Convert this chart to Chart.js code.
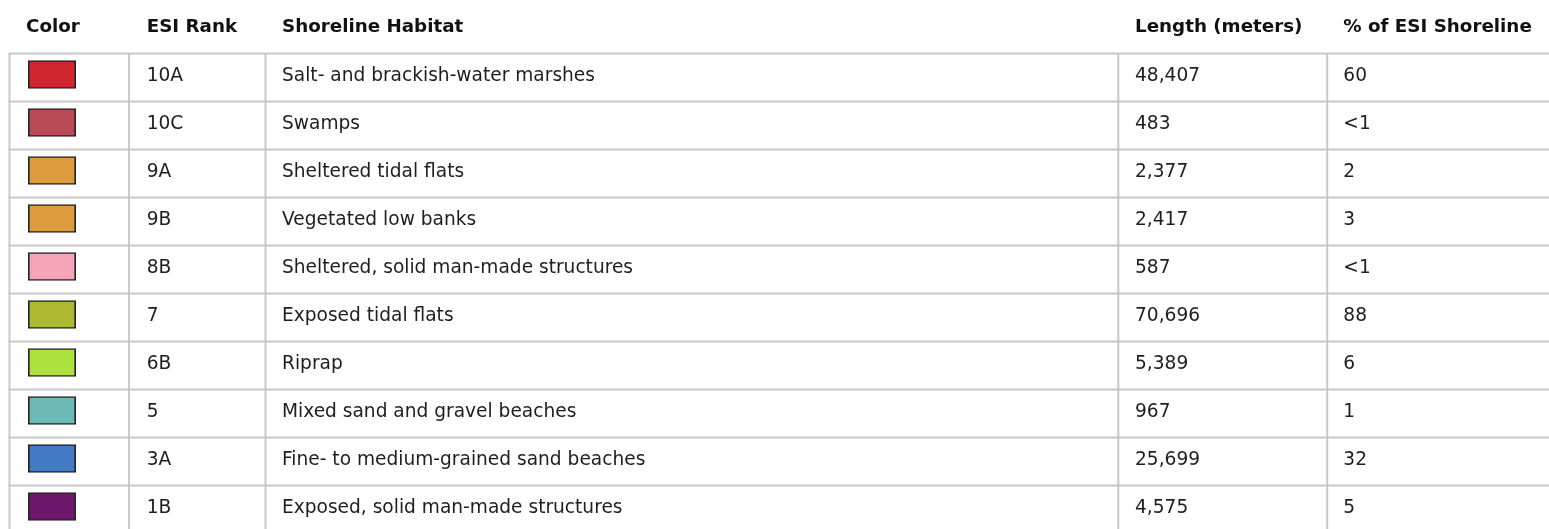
<!DOCTYPE html>
<html>
<head>
<meta charset="utf-8">
<script src="https://cdn.jsdelivr.net/npm/chart.js@4/dist/chart.umd.min.js"></script>
<style>
  html, body { margin: 0; padding: 0; background: #fff; }
  #wrap { width: 1549px; height: 529px; }
</style>
</head>
<body>
<div id="wrap"><canvas id="esiTable" width="1549" height="529"></canvas></div>
<script>
// ---- Table data ----

const headers = ['Color', 'ESI Rank', 'Shoreline Habitat', 'Length (meters)', '% of ESI Shoreline'];
const ranks = ['10A', '10C', '9A', '9B', '8B', '7', '6B', '5', '3A', '1B'];
const habitats = [
  'Salt- and brackish-water marshes',
  'Swamps',
  'Sheltered tidal flats',
  'Vegetated low banks',
  'Sheltered, solid man-made structures',
  'Exposed tidal flats',
  'Riprap',
  'Mixed sand and gravel beaches',
  'Fine- to medium-grained sand beaches',
  'Exposed, solid man-made structures'
];
const lengths = [48407, 483, 2377, 2417, 587, 70696, 5389, 967, 25699, 4575];
const shares = ['60', '<1', '2', '3', '<1', '88', '6', '1', '32', '5'];
const swatchColors = ['#d12530', '#b94a55', '#df9c3c', '#df9c3c', '#f6a4b8',
                      '#adb930', '#ade23e', '#6dbab6', '#4479c5', '#6c176c'];

// ---- Layout (x in page px, y in rows) ----

const TOP = 53.5;          // top border of the grid
const ROW_H = 48;          // row pitch
const COL_EDGES = [9.5, 129, 265.5, 1118.3, 1327.2];
const HEAD_X = [26, 146.7, 282, 1135, 1343.3];
const CELL_X = [146.7, 282, 1135, 1343.3];
const SWATCH = [28.3, 75.7];
const FONT = '"DejaVu Sans", Verdana, sans-serif';

function fmt(n) {
  return n.toLocaleString('en-US');
}

const tablePlugin = {
  id: 'tableText',
  beforeDatasetsDraw(chart) {
    const ctx = chart.ctx;
    const x = chart.scales.x, y = chart.scales.y;
    const bottom = chart.height;
    ctx.save();
    ctx.strokeStyle = '#c8c8c8';
    ctx.lineWidth = 2;
    // horizontal rules
    for (let i = 0; i < ranks.length; i++) {
      const py = y.getPixelForValue(i);
      ctx.beginPath();
      ctx.moveTo(x.getPixelForValue(COL_EDGES[0]) - 1, py);
      ctx.lineTo(x.right, py);
      ctx.stroke();
    }
    // vertical rules
    COL_EDGES.forEach(v => {
      const px = x.getPixelForValue(v);
      ctx.beginPath();
      ctx.moveTo(px, y.getPixelForValue(0));
      ctx.lineTo(px, bottom);
      ctx.stroke();
    });
    ctx.restore();
  },
  afterDatasetsDraw(chart) {
    const ctx = chart.ctx;
    const x = chart.scales.x, y = chart.scales.y;
    ctx.save();
    ctx.textBaseline = 'alphabetic';
    ctx.textAlign = 'left';

    // header row
    ctx.fillStyle = '#111';
    ctx.font = 'bold 18.3px ' + FONT;
    headers.forEach((h, j) => {
      ctx.fillText(h, x.getPixelForValue(HEAD_X[j]), y.getPixelForValue(-0.44));
    });

    // body rows
    ctx.fillStyle = '#1e1e1e';
    ctx.font = '18.6px ' + FONT;
    ranks.forEach((r, i) => {
      const py = y.getPixelForValue(i + 0.573);
      const cells = [r, habitats[i], fmt(lengths[i]), shares[i]];
      cells.forEach((c, j) => ctx.fillText(c, x.getPixelForValue(CELL_X[j]), py));
    });
    ctx.restore();
  }
};

new Chart(document.getElementById('esiTable'), {
  type: 'bar',
  data: {
    datasets: [{
      label: 'Color',
      data: ranks.map((r, i) => ({ x: SWATCH, y: i + 0.4375 })),
      backgroundColor: swatchColors,
      borderColor: '#262626',
      borderWidth: 1.7,
      borderSkipped: false,
      barThickness: 28
    }]
  },
  options: {
    indexAxis: 'y',
    responsive: false,
    animation: false,
    devicePixelRatio: 1,
    layout: { padding: { top: TOP, left: 0, right: 0, bottom: 0 } },
    plugins: {
      legend: { display: false },
      tooltip: { enabled: false }
    },
    scales: {
      x: { type: 'linear', display: false, offset: false, min: 0, max: 1549 },
      y: { type: 'linear', display: false, offset: false, reverse: true, min: 0, max: (529 - TOP) / ROW_H }
    }
  },
  plugins: [tablePlugin]
});
</script>
</body>
</html>
